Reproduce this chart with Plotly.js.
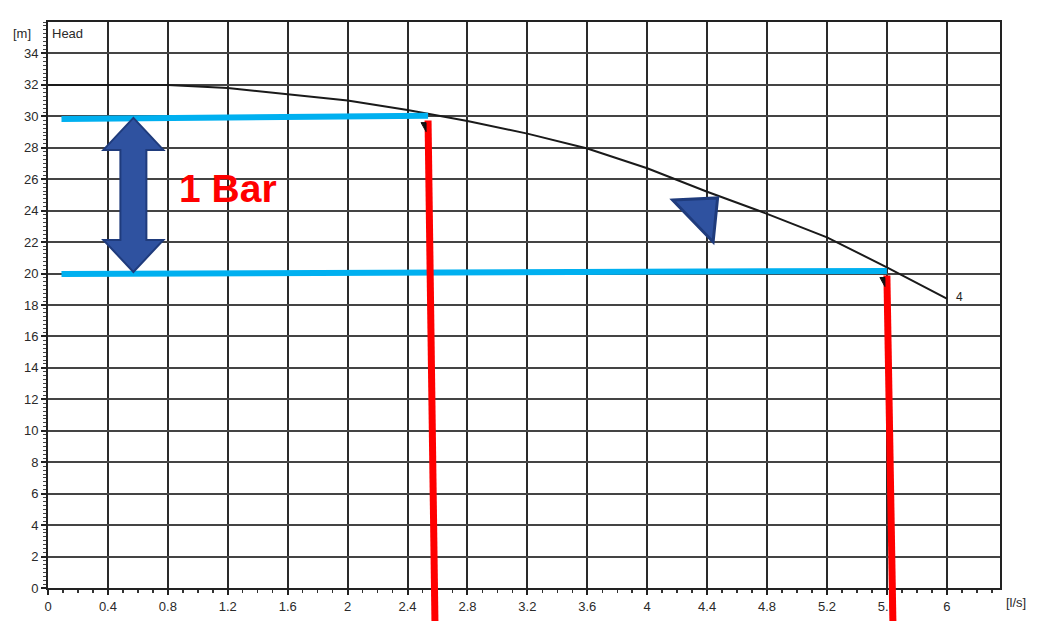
<!DOCTYPE html>
<html><head><meta charset="utf-8">
<script src="https://cdn.plot.ly/plotly-3.0.1.min.js"></script>
<style>html,body{margin:0;padding:0;background:#fff}#chart{width:1038px;height:621px}</style>
</head><body><div id="chart"></div>
<script>
// Pump curve data (flow in l/s, head in m)
var flowLs = [0, 0.4, 0.8, 1.2, 1.6, 2.0, 2.4, 2.8, 3.2, 3.6, 4.0, 4.4, 4.8, 5.2, 5.6, 6.0];
var headM  = [32, 32, 32, 31.8, 31.4, 31.0, 30.4, 29.7, 28.9, 27.95, 26.7, 25.2, 23.8, 22.3, 20.4, 18.4];
var xTickVals = [0, 0.4, 0.8, 1.2, 1.6, 2, 2.4, 2.8, 3.2, 3.6, 4, 4.4, 4.8, 5.2, 5.6, 6];
var xTickText = ["0", "0.4", "0.8", "1.2", "1.6", "2", "2.4", "2.8", "3.2", "3.6", "4", "4.4", "4.8", "5.2", "5.6", "6"];
var yTickVals = [0, 2, 4, 6, 8, 10, 12, 14, 16, 18, 20, 22, 24, 26, 28, 30, 32, 34];

// Operating points (annotations)
var opFlowTop    = [2.537, 5.60];   // red line at blue line level
var opFlowBottom = [2.583, 5.64];   // red line at bottom of picture
var blueStartFlow = [0.09, 0.09];
var blueStartHead = [29.83, 19.97];
var blueEndHead   = [30.03, 20.17];
var pressureLabel = "1 Bar";
var arrowFlow = 0.57, arrowTopHead = 29.9, arrowBottomHead = 20.1;
var triFlow = [4.17, 4.47, 4.44];
var triHead = [24.68, 24.81, 22.01];

var X_MAX = 6.355, Y_MAX = 36;
var L = 48, R = 38, T = 22, B = 33, W = 1038, H = 621;
var plotW = W - L - R, plotH = H - T - B;
function px(x) { return x / X_MAX; }
function py(y) { return y / Y_MAX; }
var pxPerX = plotW / X_MAX, pxPerY = plotH / Y_MAX;

var shapes = [];
// blue horizontal lines
for (var i = 0; i < 2; i++) {
  shapes.push({type: 'line', xref: 'x', yref: 'y',
    x0: blueStartFlow[i], y0: blueStartHead[i], x1: opFlowTop[i], y1: blueEndHead[i],
    line: {color: '#00b0f0', width: 6}});
}
// red vertical lines (extend below plot)
var bottomPaper = -B / plotH;
for (var i = 0; i < 2; i++) {
  var yTop = i === 0 ? blueStartHead[0] + 0.1 : blueEndHead[1] - 0.1;
  shapes.push({type: 'line', xref: 'paper', yref: 'paper',
    x0: px(opFlowTop[i]), y0: py(yTop) - 3 / plotH, x1: px(opFlowBottom[i]), y1: bottomPaper,
    line: {color: '#ff0000', width: 7}});
}
// small black wedges
for (var i = 0; i < 2; i++) {
  var yT = i === 0 ? 29.6 : 19.75;
  var xa = opFlowTop[i] - 7 / pxPerX, xb = opFlowTop[i] - 2 / pxPerX;
  shapes.push({type: 'path', xref: 'x', yref: 'y',
    path: 'M' + xa + ',' + yT + ' L' + xb + ',' + yT + ' L' + xb + ',' + (yT - 9 / pxPerY) + ' Z',
    fillcolor: '#111', line: {color: '#111', width: 1}});
}
// double arrow
(function () {
  var hw = 30 / pxPerX, sw = 13 / pxPerX, hh = 32 / pxPerY;
  var c = arrowFlow, t = arrowTopHead, b = arrowBottomHead;
  var p = 'M' + c + ',' + t +
    ' L' + (c + hw) + ',' + (t - hh) + ' L' + (c + sw) + ',' + (t - hh) +
    ' L' + (c + sw) + ',' + (b + hh) + ' L' + (c + hw) + ',' + (b + hh) +
    ' L' + c + ',' + b +
    ' L' + (c - hw) + ',' + (b + hh) + ' L' + (c - sw) + ',' + (b + hh) +
    ' L' + (c - sw) + ',' + (t - hh) + ' L' + (c - hw) + ',' + (t - hh) + ' Z';
  shapes.push({type: 'path', xref: 'x', yref: 'y', path: p,
    fillcolor: '#2f52a0', line: {color: '#1f3b7c', width: 2}});
})();
// blue triangle
shapes.push({type: 'path', xref: 'x', yref: 'y',
  path: 'M' + triFlow[0] + ',' + triHead[0] + ' L' + triFlow[1] + ',' + triHead[1] + ' L' + triFlow[2] + ',' + triHead[2] + ' Z',
  fillcolor: '#2f52a0', line: {color: '#1f3b7c', width: 3}});

var tickFont = {family: 'Liberation Sans, Arial, sans-serif', size: 13, color: '#2a2a2a'};
var annotations = [
  {xref: 'x', yref: 'y', x: 0.86, y: 25.4, text: '<b>' + pressureLabel + '</b>', showarrow: false,
   xanchor: 'left', yanchor: 'middle', font: {family: 'Liberation Sans, Arial, sans-serif', size: 39, color: '#ff0000'}},
  {xref: 'paper', yref: 'paper', x: -26 / plotW, y: 1 - 11 / plotH, text: '[m]', showarrow: false,
   xanchor: 'center', yanchor: 'middle', font: tickFont},
  {xref: 'paper', yref: 'paper', x: 0.002, y: 1 - 11 / plotH, text: 'Head', showarrow: false,
   xanchor: 'left', yanchor: 'middle', font: tickFont},
  {xref: 'paper', yref: 'paper', x: 1.004, y: -14 / plotH, text: '[l/s]', showarrow: false,
   xanchor: 'left', yanchor: 'middle', font: tickFont},
  {xref: 'x', yref: 'y', x: flowLs[flowLs.length - 1] + 0.05, y: headM[headM.length - 1] + 0.1, text: '4', showarrow: false,
   xanchor: 'left', yanchor: 'middle', font: {family: 'Liberation Sans, Arial, sans-serif', size: 12, color: '#222'}}
];

var trace = {x: flowLs, y: headM, type: 'scatter', mode: 'lines',
  line: {color: '#1a1a1a', width: 2}, hoverinfo: 'skip'};

var layout = {
  width: W, height: H,
  margin: {l: L, r: R, t: T, b: B, pad: 0},
  paper_bgcolor: '#fff', plot_bgcolor: '#fff',
  showlegend: false,
  xaxis: {range: [0, X_MAX], tickvals: xTickVals, ticktext: xTickText, tickfont: tickFont,
    showgrid: true, gridcolor: '#2a2a2a', gridwidth: 2, zeroline: false,
    showline: true, linecolor: '#222', linewidth: 2, mirror: true,
    ticks: 'outside', ticklen: 5, tickcolor: '#222', tickwidth: 2,
    minor: {dtick: 0.1, tick0: 0, ticks: 'outside', ticklen: 3, tickcolor: '#333', tickwidth: 1.5, showgrid: false}},
  yaxis: {range: [0, Y_MAX], tickvals: yTickVals, tickfont: tickFont,
    showgrid: true, gridcolor: '#444', gridwidth: 2, zeroline: false,
    showline: true, linecolor: '#222', linewidth: 2, mirror: true,
    ticks: 'outside', ticklen: 5, tickcolor: '#222', tickwidth: 2,
    minor: {dtick: 0.25, tick0: 0, ticks: 'outside', ticklen: 3, tickcolor: '#444', tickwidth: 1, showgrid: false}},
  shapes: shapes,
  annotations: annotations
};
Plotly.newPlot('chart', [trace], layout, {staticPlot: true, displayModeBar: false});
</script></body></html>
